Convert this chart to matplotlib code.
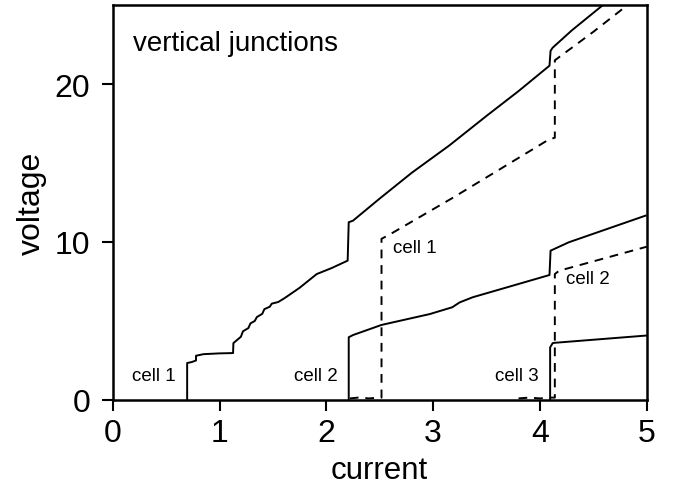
import matplotlib
matplotlib.use("Agg")
import matplotlib.pyplot as plt

plt.rcParams['font.family'] = ['Liberation Sans', 'DejaVu Sans']

# all three cells in series (solid)
total_x = [0.697, 0.697, 0.74, 0.78, 0.78, 0.85, 1.0, 1.127, 1.13, 1.20, 1.22, 1.27, 1.29,
           1.33, 1.35, 1.40, 1.42, 1.47, 1.49, 1.55, 1.61, 1.75, 1.91, 2.05, 2.20, 2.21, 2.25,
           2.50, 2.80, 3.15, 3.50, 3.80, 4.09, 4.10, 4.12, 4.30, 4.60]
total_y = [0.0, 2.34, 2.40, 2.50, 2.80, 2.90, 2.95, 2.97, 3.60, 4.00, 4.35, 4.55, 4.85,
           5.00, 5.25, 5.45, 5.75, 5.90, 6.10, 6.20, 6.45, 7.10, 7.97, 8.35, 8.82, 11.25, 11.35,
           12.75, 14.38, 16.10, 17.98, 19.55, 21.16, 22.10, 22.30, 23.40, 25.05]

# cells 2+3 (solid)
mid_x = [2.21, 2.21, 2.25, 2.517, 2.97, 3.18, 3.22, 3.25, 3.37, 4.09, 4.10, 4.27, 4.99]
mid_y = [0.0, 3.97, 4.11, 4.75, 5.44, 5.87, 6.05, 6.18, 6.50, 7.91, 9.45, 9.98, 11.67]

# cell 3 (solid)
c3_x = [4.096, 4.096, 4.12, 4.14, 5.0]
c3_y = [0.0, 3.33, 3.60, 3.62, 4.08]

# dashed curves
dtot_x = [2.22, 2.30, 2.40, 2.50, 2.517, 2.517, 2.60, 3.18, 3.60, 4.087, 4.14, 4.14, 4.50, 4.84]
dtot_y = [0.10, 0.15, 0.10, 0.15, 0.15, 10.2, 10.5, 12.78, 14.5, 16.5, 16.6, 21.5, 23.3, 25.1]

dmid_x = [3.80, 3.90, 4.00, 4.10, 4.14, 4.14, 4.18, 5.0]
dmid_y = [0.10, 0.15, 0.10, 0.15, 0.15, 7.97, 8.18, 9.70]

labels = ["cell 1", "cell 2", "cell 1", "cell 2", "cell 3"]
label_x = [0.59, 2.11, 2.62, 4.245, 3.99]
label_y = [1.54, 1.54, 9.66, 7.66, 1.54]
label_ha = ["right", "right", "left", "left", "right"]

fig = plt.figure(figsize=(6.77, 4.89), dpi=100)
ax = fig.add_axes([0.1665, 0.18, 0.7887, 0.8077])

lw = 1.4
ax.plot(total_x, total_y, color="black", lw=lw)
ax.plot(mid_x, mid_y, color="black", lw=lw)
ax.plot(c3_x, c3_y, color="black", lw=lw)
ax.plot(dtot_x, dtot_y, color="black", lw=lw, ls=(0, (4.5, 3.5)))
ax.plot(dmid_x, dmid_y, color="black", lw=lw, ls=(0, (4.5, 3.5)))

for t, x, y, ha in zip(labels, label_x, label_y, label_ha):
    ax.text(x, y, t, ha=ha, va="center", fontsize=13.5)

ax.text(0.19, 22.6, "vertical junctions", ha="left", va="center", fontsize=20)

ax.set_xlim(0, 5)
ax.set_ylim(0, 25)
ax.set_xticks([0, 1, 2, 3, 4, 5])
ax.set_yticks([0, 10, 20])
ax.tick_params(direction="out", length=8, width=1.5, labelsize=23)
ax.tick_params(axis="y", pad=8)
ax.tick_params(axis="x", pad=5)
for s in ax.spines.values():
    s.set_linewidth(1.8)
ax.set_xlabel("current", fontsize=22.5, labelpad=5)
ax.set_ylabel("voltage", fontsize=23, labelpad=6)

fig.savefig("out.png", dpi=100)
